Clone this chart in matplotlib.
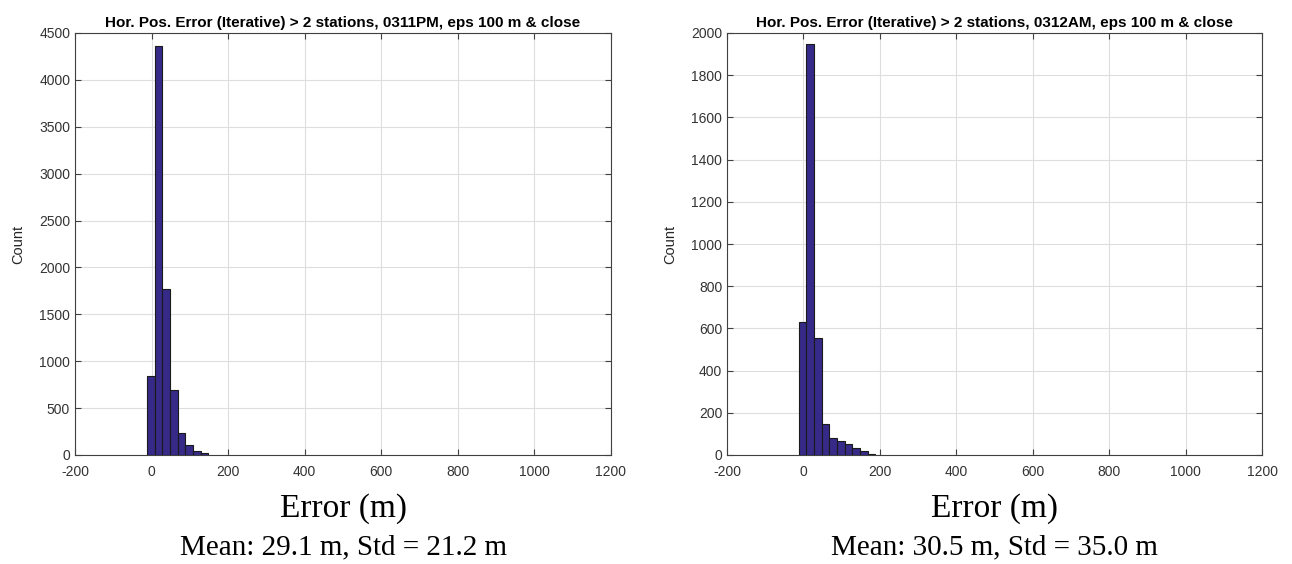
import numpy as np
import matplotlib
matplotlib.use("Agg")
import matplotlib.pyplot as plt

# histogram data
edges_pm = [-12, 8, 28, 48, 68, 88, 108, 128, 148]
counts_pm = [845, 4360, 1767, 690, 231, 103, 43, 18]

edges_am = [-12, 8, 28, 48, 68, 88, 108, 128, 148, 168, 188]
counts_am = [632, 1948, 556, 147, 79, 66, 54, 35, 19, 5]

titles = [
    "Hor. Pos. Error (Iterative) > 2 stations, 0311PM, eps 100 m & close",
    "Hor. Pos. Error (Iterative) > 2 stations, 0312AM, eps 100 m & close",
]
stats = ["Mean: 29.1 m, Std = 21.2 m", "Mean: 30.5 m, Std = 35.0 m"]
ylims = [4500, 2000]
ysteps = [500, 200]

plt.rcParams["font.family"] = ["Liberation Sans", "DejaVu Sans"]
plt.rcParams["axes.unicode_minus"] = False

W, H = 1292, 564
fig = plt.figure(figsize=(W / 100, H / 100), dpi=100)

boxes = [(75, 611), (727, 1262)]
data = [(edges_pm, counts_pm), (edges_am, counts_am)]

for i in range(2):
    x0, x1 = boxes[i]
    ax = fig.add_axes([x0 / W, (H - 455) / H, (x1 - x0) / W, 422 / H])
    edges, counts = data[i]
    edges = np.array(edges)
    ax.bar(edges[:-1], counts, width=np.diff(edges), align="edge",
           color="#352A87", edgecolor="#1a1a1a", linewidth=0.8, zorder=3)

    ax.set_xlim(-200, 1200)
    ax.set_ylim(0, ylims[i])
    ax.set_xticks(np.arange(-200, 1201, 200))
    ax.set_yticks(np.arange(0, ylims[i] + 1, ysteps[i]))
    ax.grid(True, color="#dedede", linewidth=0.8, zorder=0)
    ax.tick_params(direction="in", top=True, right=True, length=4,
                   labelsize=10, colors="#404040", labelcolor="#333333")
    ax.tick_params(axis="x", pad=7)
    for s in ax.spines.values():
        s.set_color("#404040")
        s.set_linewidth(0.8)

    ax.set_ylabel("Count", fontsize=10.5, color="#262626", labelpad=10)
    ax.set_title(titles[i], fontsize=11, fontweight="bold", pad=4)

    cx = (x0 + x1) / 2 / W
    fig.text(cx, 1 - 509 / H, "Error (m)", ha="center", va="center",
             fontsize=24, family="Liberation Serif")
    fig.text(cx, 1 - 547 / H, stats[i], ha="center", va="center",
             fontsize=21, family="Liberation Serif")

fig.savefig("out.png", dpi=100)
